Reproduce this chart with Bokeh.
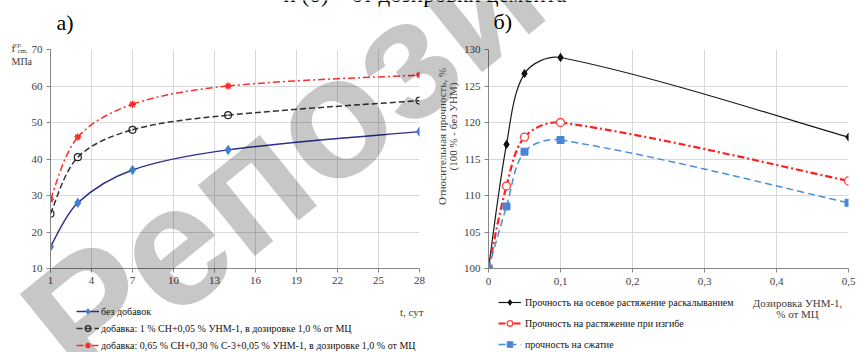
import math
import numpy as np
from bokeh.plotting import figure
from bokeh.models import Range1d, FixedTicker, Label, Legend, LegendItem, ColumnDataSource
from bokeh.layouts import row, column
from bokeh.embed import file_html
from bokeh.resources import INLINE

# ---------------- data: panel а) ----------------
days = [1, 3, 7, 14, 28]
no_additive = [16, 28, 37, 42.5, 47.5]
additive_sn = [25, 40.5, 48, 52, 56]
additive_sn_c3 = [29, 46, 55, 60, 63]
left_xticks = [1, 4, 7, 10, 13, 16, 19, 22, 25, 28]
left_yticks = [10, 20, 30, 40, 50, 60, 70]
left_labels = [
    "без добавок",
    "добавка: 1 % СН+0,05 % УНМ-1, в дозировке 1,0 % от МЦ",
    "добавка: 0,65 % СН+0,30 % С-3+0,05 % УНМ-1, в дозировке 1,0 % от МЦ",
]

# ---------------- data: panel б) ----------------
dosage = [0, 0.025, 0.05, 0.1, 0.5]
split_tension = [100, 117, 126.7, 128.9, 118]
bend_tension = [100, 111.3, 118, 120, 112]
compression = [100, 108.5, 116, 117.6, 109]
right_xticks = [0, 0.1, 0.2, 0.3, 0.4, 0.5]
right_xtick_labels = ["0", "0,1", "0,2", "0,3", "0,4", "0,5"]
right_yticks = [100, 105, 110, 115, 120, 125, 130]
right_labels = [
    "Прочность на осевое растяжение раскалыванием",
    "Прочность на растяжение при изгибе",
    "прочность на сжатие",
]

SERIF = "Liberation Serif"
GRID = "#d9d9d9"
AXIS = "#868686"
TICKTXT = "#404040"
H = 352

# layout (pixels)
WL, LB_L, LB_R, LB_T, LB_B = 430, 50, 11, 49, 69
WR, RB_L, RB_R, RB_T, RB_B = 427, 58, 9, 42, 84

# series styles
ST_L = [
    dict(line=dict(line_color="#2b2f8f", line_width=1.5),
         mark=dict(marker="diamond", size=9, fill_color="#3f7fd0", line_color="#3f7fd0")),
    dict(line=dict(line_color="#333333", line_width=1.5, line_dash="6 3"),
         mark=dict(marker="circle", size=7, fill_color=None, line_color="#222222", line_width=1.2)),
    dict(line=dict(line_color="#ff2a2a", line_width=1.5, line_dash="7 3 2 3"),
         mark=dict(marker="asterisk", size=7, line_color="#ff2a2a", line_width=1.5)),
]
ST_R = [
    dict(line=dict(line_color="#1a1a1a", line_width=1.2),
         mark=dict(marker="diamond", size=8, fill_color="#111111", line_color="#111111")),
    dict(line=dict(line_color="#ff1f1f", line_width=2.2, line_dash="7 3 2 3"),
         mark=dict(marker="circle", size=8, fill_color="white", line_color="#ff4040", line_width=1.3)),
    dict(line=dict(line_color="#4a8fdc", line_width=1.5, line_dash="7 4"),
         mark=dict(marker="square", size=7, fill_color="#4a86d8", line_color="#4a86d8")),
]

BZ = ("x0", "y0", "x1", "y1", "cx0", "cy0", "cx1", "cy1")


def smooth_source(xs, ys, kx, ky):
    """Bezier segments through the points, tangents scaled by neighbouring chord lengths."""
    x = np.asarray(xs, float) * kx
    y = np.asarray(ys, float) * ky
    n = len(x)
    ox, oy, ix, iy = np.zeros(n), np.zeros(n), np.zeros(n), np.zeros(n)
    for i in range(n):
        if i == 0:
            ox[i], oy[i] = (x[1] - x[0]) / 6, (y[1] - y[0]) / 6
        elif i == n - 1:
            ix[i], iy[i] = (x[i] - x[i - 1]) / 6, (y[i] - y[i - 1]) / 6
        else:
            tx, ty = x[i + 1] - x[i - 1], y[i + 1] - y[i - 1]
            d01 = math.hypot(x[i] - x[i - 1], y[i] - y[i - 1])
            d12 = math.hypot(x[i + 1] - x[i], y[i + 1] - y[i])
            s = d01 + d12
            ox[i], oy[i] = tx * d12 / s / 3, ty * d12 / s / 3
            ix[i], iy[i] = tx * d01 / s / 3, ty * d01 / s / 3
    return ColumnDataSource(dict(
        x0=x[:-1] / kx, y0=y[:-1] / ky, x1=x[1:] / kx, y1=y[1:] / ky,
        cx0=(x[:-1] + ox[:-1]) / kx, cy0=(y[:-1] + oy[:-1]) / ky,
        cx1=(x[1:] - ix[1:]) / kx, cy1=(y[1:] - iy[1:]) / ky,
    ))


def style_axes(p, xstandoff):
    p.outline_line_color = None
    p.background_fill_color = "white"
    p.border_fill_color = "white"
    p.grid.grid_line_color = GRID
    p.grid.grid_line_width = 1
    for ax in p.axis:
        ax.axis_line_color = AXIS
        ax.major_tick_line_color = AXIS
        ax.major_tick_out = 4
        ax.major_tick_in = 0
        ax.minor_tick_line_color = None
        ax.major_label_text_font = SERIF
        ax.major_label_text_font_size = "11px"
        ax.major_label_text_color = TICKTXT
    p.yaxis.major_label_standoff = 4
    p.xaxis.major_label_standoff = xstandoff


# ================= panel а) =================
pl = figure(width=WL, height=H, x_range=Range1d(1, 28), y_range=Range1d(10, 70),
            output_backend="svg", toolbar_location=None,
            min_border_left=LB_L, min_border_right=LB_R, min_border_top=LB_T,
            min_border_bottom=LB_B)
pl.xaxis.ticker = FixedTicker(ticks=left_xticks)
pl.yaxis.ticker = FixedTicker(ticks=left_yticks)
style_axes(pl, 4)
kxl = (WL - LB_L - LB_R) / 27.0
kyl = (H - LB_T - LB_B) / 60.0
for vals, st in zip([no_additive, additive_sn, additive_sn_c3], ST_L):
    pl.bezier(*BZ, source=smooth_source(days, vals, kxl, kyl), **st["line"])
    pl.scatter(days, vals, **st["mark"])

# ================= panel б) =================
pr = figure(width=WR, height=H, x_range=Range1d(0, 0.5), y_range=Range1d(100, 130),
            output_backend="svg", toolbar_location=None,
            min_border_left=RB_L, min_border_right=RB_R, min_border_top=RB_T,
            min_border_bottom=RB_B)
pr.xaxis.ticker = FixedTicker(ticks=right_xticks)
pr.xaxis.major_label_overrides = {t: s for t, s in zip(right_xticks, right_xtick_labels)}
pr.yaxis.ticker = FixedTicker(ticks=right_yticks)
style_axes(pr, 5)
kxr = (WR - RB_L - RB_R) / 0.5
kyr = (H - RB_T - RB_B) / 30.0
for vals, st in zip([split_tension, bend_tension, compression], ST_R):
    pr.bezier(*BZ, source=smooth_source(dosage, vals, kxr, kyr), **st["line"])
    pr.scatter(dosage, vals, **st["mark"])

# ================= transparent text / legend layer on top =================
ov = figure(width=WL + WR, height=H, x_range=Range1d(0, WL + WR), y_range=Range1d(H, 0),
            output_backend="svg", toolbar_location=None, min_border=0,
            x_axis_location=None, y_axis_location=None,
            styles={"position": "absolute", "top": "0px", "left": "0px"})
ov.grid.visible = False
ov.outline_line_color = None
ov.background_fill_color = None
ov.border_fill_color = None


def lab(x, y, text, size="11px", align="left", baseline="middle", angle=0.0,
        color="#404040", font=SERIF, style="normal", alpha=1.0):
    ov.add_layout(Label(x=x, y=y, text=text, angle=angle, text_font=font,
                        text_font_size=size, text_align=align, text_baseline=baseline,
                        text_color=color, text_font_style=style, text_alpha=alpha))


def legend_for(labels, styles, loc, spacing, standoff):
    """Legend keys: off-screen (NaN) renderers carrying each series' style."""
    items = []
    for text, st in zip(labels, styles):
        key = ColumnDataSource({k: [np.nan] for k in BZ})
        r_line = ov.bezier(*BZ, source=key, **st["line"])
        mark = dict(st["mark"], size=5)
        r_mark = ov.scatter(x=[np.nan], y=[np.nan], **mark)
        items.append(LegendItem(label=text, renderers=[r_line, r_mark]))
    ov.add_layout(Legend(items=items, location=loc, orientation="vertical", padding=0,
                         margin=0, spacing=spacing, glyph_width=23, glyph_height=14,
                         label_height=12, label_standoff=standoff, label_text_font=SERIF,
                         label_text_font_size="10px", label_text_color="#111111",
                         border_line_color=None, background_fill_alpha=0))


# watermark
lab(47, 346, "Репозиторий", size="172px", angle=0.68, color="#000000",
    font="Liberation Sans", style="bold", alpha=0.22, baseline="alphabetic")

legend_for(left_labels, ST_L, (76, 0), 3, 2)
legend_for(right_labels, ST_R, (498, 1), 7, 4)

lab(283, -6, "и (б) – от дозировки цемента", size="23px", color="#000000")
lab(56, 22, "а)", size="22px", color="#000000")
lab(493, 21, "б)", size="22px", color="#000000")

lab(11, 47, "f", size="11px")
lab(14, 44, "ср", size="7px")
lab(17, 50, "cm,", size="7px")
lab(11, 61, "МПа", size="10px")
lab(423, 311, "t, сут", size="11px", align="right")

lab(441, 136, "Относительная прочность, %", size="11px", align="center",
    angle=math.pi / 2)
lab(452, 126, "(100 % - без УНМ)", size="11px", align="center", angle=math.pi / 2)
lab(797, 302, "Дозировка УНМ-1,", size="11px", align="center")
lab(797, 313, "% от МЦ", size="11px", align="center")

layout = column(row(pl, pr), ov)
open("out.html", "w").write(file_html(layout, INLINE))
